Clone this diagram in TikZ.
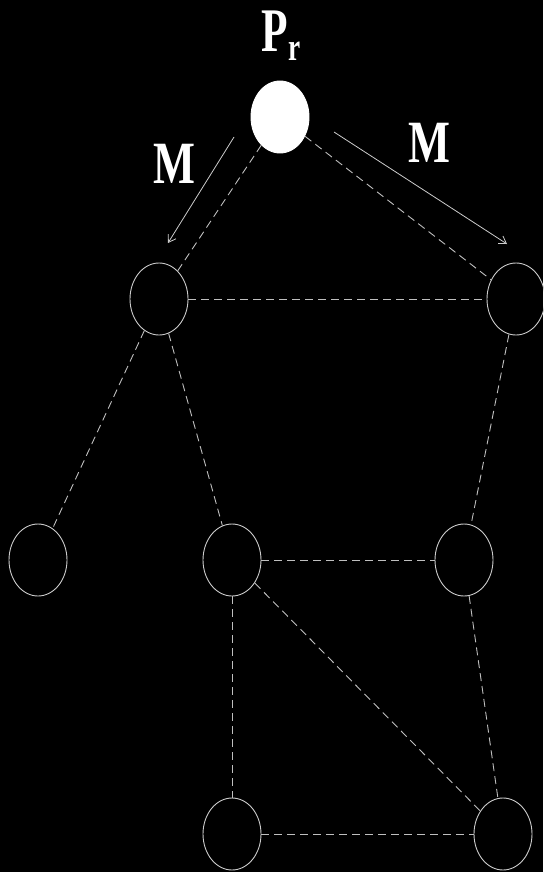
\documentclass[tikz,border=0pt]{standalone}
\usepackage{fontspec}
\setmainfont{Liberation Serif}
\usetikzlibrary{shapes.geometric,arrows.meta}
\begin{document}
\begin{tikzpicture}[x=1pt,y=-1pt,
  vtx/.style={ellipse,draw=black!20,line width=0.9pt,minimum width=58pt,minimum height=72pt,inner sep=0pt},
  root/.style={vtx,fill=white,draw=white},
  link/.style={draw=black!25,line width=0.9pt,dash pattern=on 8pt off 5pt},
  msg/.style={draw=black!20,line width=0.8pt,-{Straight Barb[length=7pt,width=9pt]}},
  lbl/.style={text=white,inner sep=0pt,anchor=base}]
\fill[black] (0,0) rectangle (543,872);
\useasboundingbox (0,0) rectangle (543,872);
\node[root] (pr) at (280,117) {};
\node[vtx] (a) at (159,299) {};
\node[vtx] (b) at (516,299) {};
\node[vtx] (c) at (38,560) {};
\node[vtx] (d) at (232,560) {};
\node[vtx] (e) at (464,560) {};
\node[vtx] (f) at (232,834) {};
\node[vtx] (g) at (503,834) {};
\draw[link] (pr) -- (a);
\draw[link] (pr) -- (b);
\draw[link] (a) -- (b);
\draw[link] (a) -- (c);
\draw[link] (a) -- (d);
\draw[link] (b) -- (e);
\draw[link] (d) -- (e);
\draw[link] (d) -- (f);
\draw[link] (d) -- (g);
\draw[link] (e) -- (g);
\draw[link] (f) -- (g);
\coordinate (m1s) at (234,137);
\coordinate (m1e) at (168,243);
\coordinate (m2s) at (334,132);
\coordinate (m2e) at (507,244);
\draw[msg] (m1s) -- (m1e);
\draw[msg] (m2s) -- (m2e);
\node[lbl] (ml) at (174,183) {\scalebox{0.74}[1]{\bfseries\fontsize{60}{60}\selectfont M}};
\node[lbl] (mr) at (429,162) {\scalebox{0.74}[1]{\bfseries\fontsize{60}{60}\selectfont M}};
\node[lbl,anchor=base west] (plab) at (261,52) {\scalebox{0.7}[1]{\bfseries\fontsize{62}{62}\selectfont P\kern1pt\raisebox{-9pt}{\fontsize{39}{39}\selectfont r}}};
\end{tikzpicture}
\end{document}
